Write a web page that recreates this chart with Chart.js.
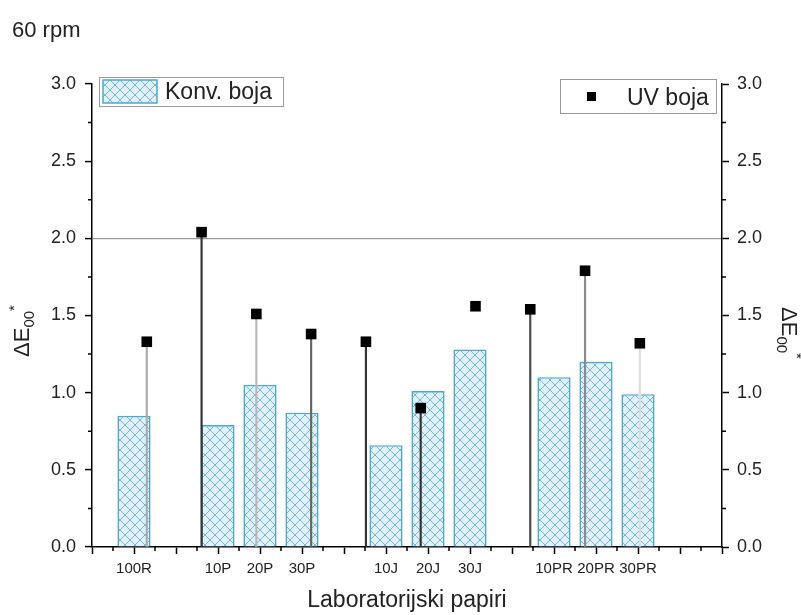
<!DOCTYPE html>
<html>
<head>
<meta charset="utf-8">
<script src="https://cdn.jsdelivr.net/npm/chart.js@4"></script>
<style>
  html, body { margin: 0; padding: 0; background: #fff; }
  #wrap { width: 801px; height: 615px; }
</style>
</head>
<body>
<div id="wrap"><canvas id="chart" width="801" height="615"></canvas></div>
<script>
// --- DATA ---
const xTickLabels = ['', '100R', '', '10P', '20P', '30P', '', '10J', '20J', '30J', '', '10PR', '20PR', '30PR', '', ''];
const samples = ['100R', '10P', '20P', '30P', '10J', '20J', '30J', '10PR', '20PR', '30PR'];
const konvValues = [0.85, 0.79, 1.05, 0.87, 0.66, 1.01, 1.28, 1.10, 1.20, 0.99];
const uvValues = [1.33, 2.04, 1.51, 1.38, 1.33, 0.90, 1.56, 1.54, 1.79, 1.32];
const yMin = 0, yMax = 3, yStep = 0.5;

// drop lines under the UV points (scan shows them in different greys)
const stemColors = ['#aaaaaa', '#333333', '#b8b8b8', '#666666', '#333333', '#333333',
                    'rgba(0,0,0,0)', '#4a4a4a', '#8a8a8a', '#dddddd'];

const FONT = "'Liberation Sans', Arial, sans-serif";
Chart.defaults.font.family = FONT;
Chart.defaults.color = '#222';

// --- hatch pattern for the bars ---
function makePattern() {
    const c = document.createElement('canvas');
    c.width = 10; c.height = 10;
    const g = c.getContext('2d');
    g.fillStyle = '#e2f1f9';
    g.fillRect(0, 0, 10, 10);
    g.strokeStyle = '#74b9da';
    g.lineWidth = 1;
    g.beginPath();
    g.moveTo(0, 0); g.lineTo(10, 10);
    g.moveTo(10, 0); g.lineTo(0, 10);
    g.stroke();
    return g.createPattern(c, 'repeat');
}
const barPattern = makePattern();

const barData = xTickLabels.map(l => {
    const i = samples.indexOf(l);
    return i >= 0 ? konvValues[i] : null;
});
const uvData = uvValues.map((v, i) => ({ x: i + 1, y: v }));

// --- small helpers drawn on top ---
function drawDeltaE(ctx, cx, cy, rot) {
    ctx.save();
    ctx.translate(cx, cy);
    ctx.rotate(rot);
    ctx.fillStyle = '#222';
    ctx.textBaseline = 'alphabetic';
    ctx.font = '22px ' + FONT;
    const w1 = ctx.measureText('\u0394E').width;
    ctx.font = '15px ' + FONT;
    const w2 = ctx.measureText('00').width;
    const w3 = ctx.measureText('*').width;
    let x0 = -(w1 + w2 + w3) / 2;
    ctx.font = '22px ' + FONT;
    ctx.fillText('\u0394E', x0, 0);
    ctx.font = '15px ' + FONT;
    ctx.fillText('00', x0 + w1, 5);
    ctx.fillText('*', x0 + w1 + w2, -10);
    ctx.restore();
}

const decorations = {
    id: 'decorations',
    afterDraw(chart) {
        const { ctx, scales: { x, y, y2 } } = chart;
        ctx.save();

        // minor ticks
        ctx.strokeStyle = '#000';
        ctx.lineWidth = 1.5;
        ctx.beginPath();
        for (let i = 0; i < xTickLabels.length - 1; i++) {
            const px = (x.getPixelForTick(i) + x.getPixelForTick(i + 1)) / 2;
            ctx.moveTo(px, x.top); ctx.lineTo(px, x.top + 4);
        }
        for (let v = yMin + yStep / 2; v < yMax; v += yStep) {
            const py = y.getPixelForValue(v);
            ctx.moveTo(y.right, py); ctx.lineTo(y.right - 4, py);
            ctx.moveTo(y2.left, py); ctx.lineTo(y2.left + 4, py);
        }
        ctx.stroke();

        // titles
        ctx.fillStyle = '#222';
        ctx.font = '22px ' + FONT;
        ctx.textBaseline = 'alphabetic';
        ctx.textAlign = 'left';
        ctx.fillText('60 rpm', 12, 37);
        ctx.font = '23px ' + FONT;
        ctx.textAlign = 'center';
        ctx.fillText('Laboratorijski papiri', (x.left + x.right) / 2, 607);
        ctx.textAlign = 'left';
        drawDeltaE(ctx, 29, 331, -Math.PI / 2);
        drawDeltaE(ctx, 782, 333, Math.PI / 2);

        // legend: Konv. boja
        const konv = chart.data.datasets[2];
        ctx.lineWidth = 1;
        ctx.strokeStyle = '#9a9a9a';
        ctx.strokeRect(99.5, 77.5, 184, 29);
        ctx.fillStyle = konv.backgroundColor;
        ctx.fillRect(103, 80, 54, 23);
        ctx.strokeStyle = konv.borderColor;
        ctx.lineWidth = 1.5;
        ctx.strokeRect(103, 80, 54, 23);
        ctx.fillStyle = '#222';
        ctx.font = '23px ' + FONT;
        ctx.fillText(konv.label, 165, 99);

        // legend: UV boja
        const uv = chart.data.datasets[0];
        ctx.lineWidth = 1;
        ctx.strokeStyle = '#9a9a9a';
        ctx.strokeRect(560.5, 79.5, 156, 34);
        ctx.fillStyle = uv.backgroundColor;
        ctx.fillRect(587, 92, 9, 9);
        ctx.fillStyle = '#222';
        ctx.fillText(uv.label, 627, 105);

        ctx.restore();
    }
};

new Chart(document.getElementById('chart'), {
    data: {
        labels: xTickLabels,
        datasets: [
            {
                type: 'line',
                label: 'UV boja',
                data: uvData,
                xAxisID: 'x2',
                yAxisID: 'y',
                showLine: false,
                pointStyle: 'rect',
                pointRadius: 7.5,
                pointHoverRadius: 7.5,
                pointBorderWidth: 0,
                backgroundColor: '#000',
                borderColor: '#000',
                order: 0
            },
            {
                type: 'bar',
                label: 'stems',
                data: uvData,
                xAxisID: 'x2',
                yAxisID: 'y',
                barThickness: 1.5,
                backgroundColor: stemColors,
                borderWidth: 0,
                grouped: false,
                order: 1
            },
            {
                type: 'bar',
                label: 'Konv. boja',
                data: barData,
                xAxisID: 'x',
                yAxisID: 'y',
                backgroundColor: barPattern,
                borderColor: '#4ba9d1',
                borderWidth: 1.6,
                barPercentage: 0.79,
                categoryPercentage: 1,
                grouped: false,
                order: 2
            }
        ]
    },
    options: {
        responsive: false,
        animation: false,
        layout: { padding: { top: 84, left: 0, right: 0, bottom: 0 } },
        plugins: {
            legend: { display: false },
            tooltip: { enabled: false }
        },
        scales: {
            x: {
                type: 'category',
                position: 'bottom',
                offset: false,
                afterFit: s => { s.height = 68; },
                grid: { offset: false, color: 'transparent', tickColor: '#000', tickLength: 7, tickWidth: 1.5 },
                border: { display: true, color: '#000', width: 1.5 },
                ticks: { autoSkip: false, maxRotation: 0, padding: 6, font: { size: 15 }, color: '#222' }
            },
            x2: {
                type: 'linear',
                display: false,
                offset: false,
                grid: { offset: false },
                min: 0,
                max: 11.5
            },
            y: {
                type: 'linear',
                position: 'left',
                min: yMin,
                max: yMax,
                afterFit: s => { s.width = 92; },
                grid: {
                    color: c => (c.tick && c.tick.value === 2 ? '#9a9a9a' : 'transparent'),
                    lineWidth: 1.2,
                    tickColor: '#000',
                    tickLength: 7,
                    tickWidth: 1.5
                },
                border: { display: true, color: '#000', width: 1.5 },
                ticks: { stepSize: yStep, padding: 9, font: { size: 18 }, color: '#222',
                         callback: v => v.toFixed(1) }
            },
            y2: {
                type: 'linear',
                position: 'right',
                min: yMin,
                max: yMax,
                afterFit: s => { s.width = 79; },
                grid: { drawOnChartArea: false, tickColor: '#000', tickLength: 7, tickWidth: 1.5 },
                border: { display: true, color: '#000', width: 1.5 },
                ticks: { stepSize: yStep, padding: 8, font: { size: 18 }, color: '#222',
                         callback: v => v.toFixed(1) }
            }
        }
    },
    plugins: [decorations]
});
</script>
</body>
</html>
